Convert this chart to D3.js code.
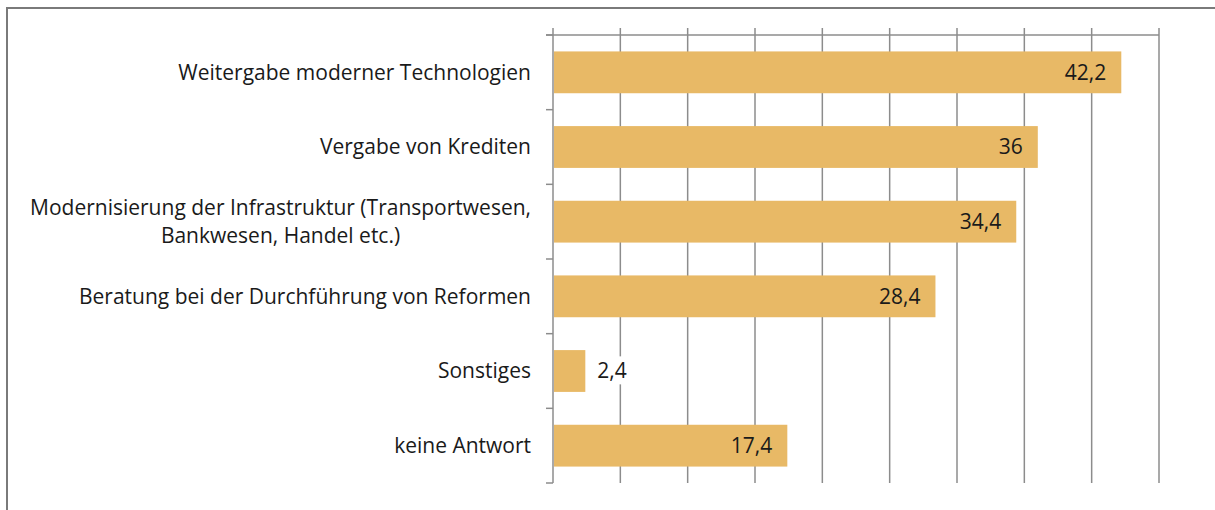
<!DOCTYPE html>
<html>
  <head>
    <meta charset="utf-8">
    <style type="text/css">
      body { margin: 0; background: #fff; }
      text { font-family: "Open Sans", "Noto Sans", sans-serif; fill: #1a1a1a; }
      .grid line { stroke: #8c8c8c; stroke-width: 1.5; }
    </style>
  </head>
  <body>
    <script src="https://d3js.org/d3.v7.min.js"></script>
    <script>
      // data
      var categories = [
        ["Weitergabe moderner Technologien"],
        ["Vergabe von Krediten"],
        ["Modernisierung der Infrastruktur (Transportwesen,", "Bankwesen, Handel etc.)"],
        ["Beratung bei der Durchführung von Reformen"],
        ["Sonstiges"],
        ["keine Antwort"]
      ];
      var values = [42.2, 36, 34.4, 28.4, 2.4, 17.4];
      var valueLabels = ["42,2", "36", "34,4", "28,4", "2,4", "17,4"];
      var xTicks = [0, 5, 10, 15, 20, 25, 30, 35, 40, 45];

      var width = 1215;
      var height = 510;
      var fontSize = "21px";

      var svg = d3.select("body")
                  .append("svg")
                  .attr("width", width)
                  .attr("height", height);

      // outer frame (runs off the right and bottom edge)
      svg.append("rect")
          .attr("x", 7).attr("y", 8)
          .attr("width", 1240).attr("height", 540)
          .attr("fill", "none")
          .attr("stroke", "#7a7a7a")
          .attr("stroke-width", 2);

      var x = d3.scaleLinear().domain([0, 45]).range([553, 1159]);
      var y = d3.scaleBand()
          .domain(d3.range(categories.length))
          .range([35, 483])
          .paddingInner(0.44)
          .paddingOuter(0.22);

      // vertical grid lines with small ticks above the top line
      svg.append("g")
          .attr("class", "grid")
          .selectAll("line")
          .data(xTicks)
        .enter()
          .append("line")
          .attr("x1", function(d) { return x(d); })
          .attr("x2", function(d) { return x(d); })
          .attr("y1", 28)
          .attr("y2", 483);

      // top axis line
      svg.append("g").attr("class", "grid")
        .append("line")
          .attr("x1", 546).attr("x2", x(45))
          .attr("y1", 35).attr("y2", 35);

      // category separators on the left axis
      var step = y.step();
      svg.append("g")
          .attr("class", "grid")
          .selectAll("line")
          .data(d3.range(categories.length + 1))
        .enter()
          .append("line")
          .attr("x1", 546).attr("x2", 553)
          .attr("y1", function(i) { return 35 + i * step; })
          .attr("y2", function(i) { return 35 + i * step; });

      // bars
      svg.append("g")
          .selectAll("rect")
          .data(values)
        .enter()
          .append("rect")
          .attr("x", x(0) + 1)
          .attr("y", function(d, i) { return y(i); })
          .attr("width", function(d) { return x(d) - x(0) - 1; })
          .attr("height", y.bandwidth())
          .attr("fill", "#e8b966");

      // value labels (inside the bar end, or outside on white when too short)
      function inside(d) { return x(d) - x(0) > 60; }
      var vl = svg.append("g")
          .selectAll("g")
          .data(values)
        .enter()
          .append("g");

      vl.append("text")
          .attr("x", function(d) { return inside(d) ? x(d) - 15 : x(d) + 12; })
          .attr("y", function(d, i) { return y(i) + y.bandwidth() / 2; })
          .attr("dy", "0.35em")
          .attr("text-anchor", function(d) { return inside(d) ? "end" : "start"; })
          .style("font-size", fontSize)
          .text(function(d, i) { return valueLabels[i]; });

      vl.filter(function(d) { return !inside(d); })
        .each(function() {
          var b = d3.select(this).select("text").node().getBBox();
          d3.select(this).insert("rect", "text")
              .attr("x", b.x - 2).attr("y", b.y)
              .attr("width", b.width + 4).attr("height", b.height)
              .attr("fill", "#fff");
        });

      // category labels: block right aligned, lines centred inside
      var lineH = 28;
      var labels = svg.append("g")
          .selectAll("g")
          .data(categories)
        .enter()
          .append("g");

      labels.each(function(lines, i) {
        var g = d3.select(this);
        var cy = y(i) + y.bandwidth() / 2;
        var t = g.selectAll("text")
            .data(lines)
          .enter()
            .append("text")
            .attr("y", function(d, j) { return cy + (j - (lines.length - 1) / 2) * lineH; })
            .attr("dy", "0.35em")
            .style("font-size", fontSize)
            .text(function(d) { return d; });
        var w = d3.max(t.nodes(), function(n) { return n.getComputedTextLength(); });
        var right = 531;
        t.attr("text-anchor", "middle").attr("x", right - w / 2);
      });
    </script>
  </body>
</html>
